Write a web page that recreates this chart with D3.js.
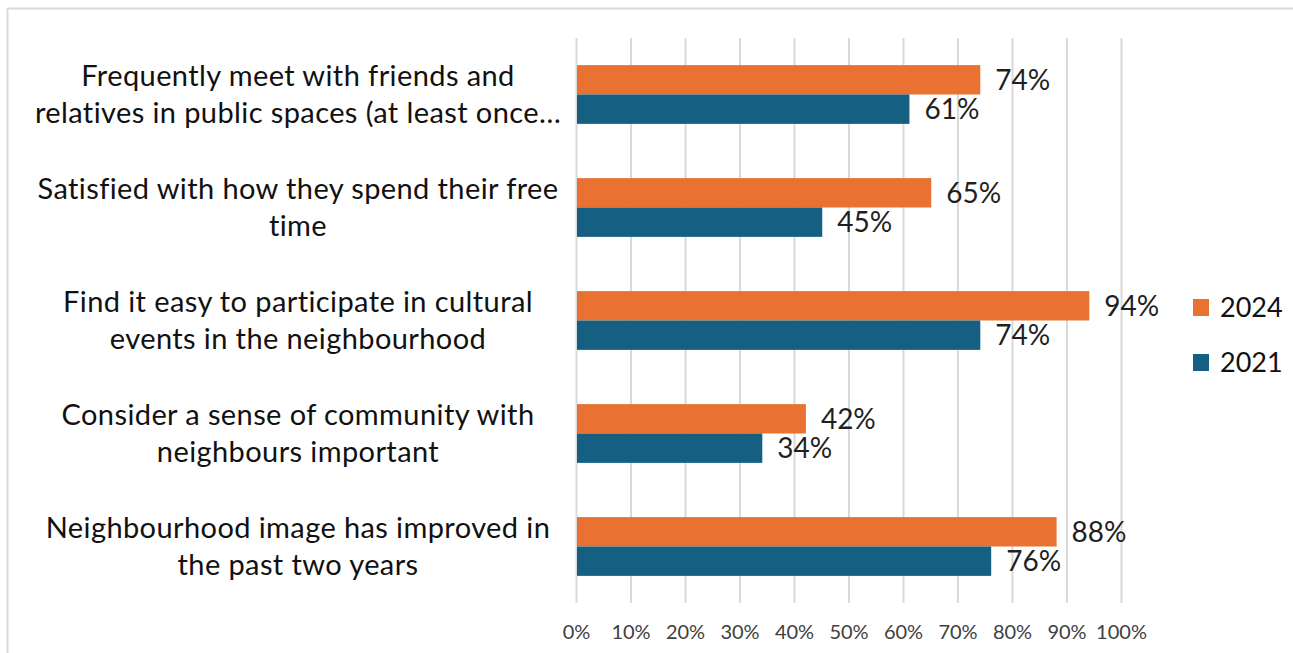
<!DOCTYPE html>
<html>
<head>
<meta charset="utf-8">
<script src="https://cdn.jsdelivr.net/npm/d3@7"></script>
<style>
  body { margin: 0; background: #fff; }
  svg { display: block; font-family: Lato, "Open Sans", sans-serif; }
</style>
</head>
<body>
<svg id="chart" width="1293" height="653"></svg>
<script>
// category labels, already broken into lines like the original
const categories = [
  ["Frequently meet with friends and", "relatives in public spaces (at least once\u2026"],
  ["Satisfied with how they spend their free", "time"],
  ["Find it easy to participate in cultural", "events in the neighbourhood"],
  ["Consider a sense of community with", "neighbours important"],
  ["Neighbourhood image has improved in", "the past two years"]
];
const series = ["2024", "2021"];
const values2024 = [74, 65, 94, 42, 88];
const values2021 = [61, 45, 74, 34, 76];
const xTicks = [0, 10, 20, 30, 40, 50, 60, 70, 80, 90, 100];

const colours = { "2024": "#E97132", "2021": "#156082" };

const svg = d3.select("#chart");
const width = +svg.attr("width");
const height = +svg.attr("height");

// chart frame (only top and left edges show)
svg.append("line").attr("x1", 7.5).attr("x2", width).attr("y1", 8.5).attr("y2", 8.5)
  .attr("stroke", "#d9d9d9").attr("stroke-width", 2);
svg.append("line").attr("x1", 7.5).attr("x2", 7.5).attr("y1", 8.5).attr("y2", height)
  .attr("stroke", "#d9d9d9").attr("stroke-width", 2);

const plot = { left: 576, right: 1121, top: 38, bottom: 603 };

const x = d3.scaleLinear().domain([0, 100]).range([plot.left, plot.right]);
const y = d3.scaleBand().domain(d3.range(categories.length))
  .range([plot.top, plot.bottom]).paddingInner(0.48).paddingOuter(0.24);
const ySeries = d3.scaleBand().domain(series).range([0, y.bandwidth()]);

// gridlines
svg.append("g").selectAll("line").data(xTicks).join("line")
  .attr("x1", (d) => x(d) + 0.5).attr("x2", (d) => x(d) + 0.5)
  .attr("y1", plot.top).attr("y2", plot.bottom)
  .attr("stroke", "#d9d9d9").attr("stroke-width", 2);

// x axis tick labels
const xAxis = svg.append("g")
  .attr("transform", `translate(0,${plot.bottom + 19})`)
  .call(d3.axisBottom(x).tickValues(xTicks).tickFormat((d) => d + "%").tickSize(0));
xAxis.select(".domain").remove();
xAxis.selectAll("text").attr("font-size", 20).attr("fill", "#404040")
  .attr("font-family", "Lato, sans-serif");

// bars
const rows = categories.map((c, i) => ({
  i,
  vals: [
    { s: "2024", v: values2024[i] },
    { s: "2021", v: values2021[i] }
  ]
}));

const groups = svg.append("g").selectAll("g").data(rows).join("g")
  .attr("transform", (d) => `translate(0,${y(d.i)})`);

groups.selectAll("rect").data((d) => d.vals).join("rect")
  .attr("x", x(0) + 1)
  .attr("y", (d) => ySeries(d.s))
  .attr("width", (d) => x(d.v) - x(0))
  .attr("height", ySeries.bandwidth())
  .attr("fill", (d) => colours[d.s]);

groups.selectAll("text").data((d) => d.vals).join("text")
  .attr("x", (d) => x(d.v) + 16)
  .attr("y", (d) => ySeries(d.s) + ySeries.bandwidth() / 2)
  .attr("dy", "0.36em")
  .attr("font-size", 28)
  .attr("fill", "#1f1f1f")
  .text((d) => d.v + "%");

// category labels
const labelX = 298;
svg.append("g").selectAll("text").data(categories).join("text")
  .attr("text-anchor", "middle")
  .attr("font-size", 29)
  .attr("letter-spacing", 0.4)
  .attr("fill", "#111")
  .each(function (lines, i) {
    const cy = y(i) + y.bandwidth() / 2;
    d3.select(this).selectAll("tspan").data(lines).join("tspan")
      .attr("x", labelX)
      .attr("y", (d, j) => cy + (j - (lines.length - 1) / 2) * 37)
      .attr("dy", "0.35em")
      .text((d) => d);
  });

// legend
const legend = svg.append("g").selectAll("g").data(series).join("g")
  .attr("transform", (d, i) => `translate(1193,${299 + i * 55})`);
legend.append("rect").attr("width", 16).attr("height", 17)
  .attr("fill", (d) => colours[d]);
legend.append("text").attr("x", 27).attr("y", 8.5).attr("dy", "0.36em")
  .attr("font-size", 27).attr("fill", "#111").text((d) => d);
</script>
</body>
</html>
